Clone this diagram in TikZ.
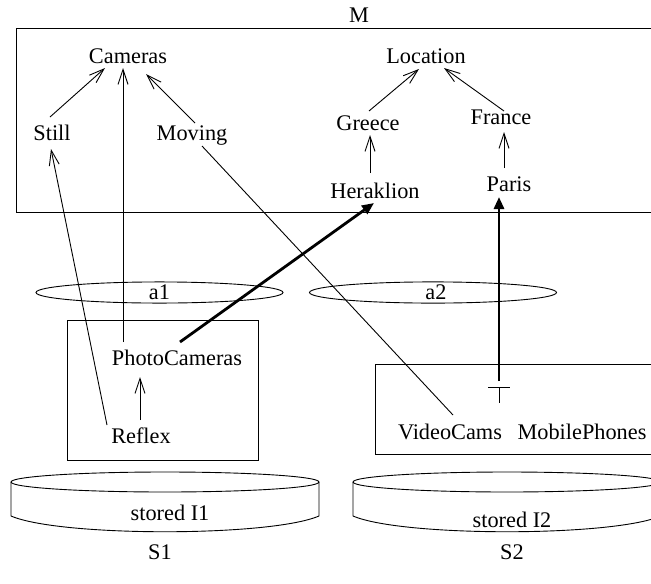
\documentclass[tikz,border=0pt]{standalone}
\usepackage{fontspec}
\setmainfont{Liberation Serif}
\usetikzlibrary{arrows.meta,shapes.geometric,calc}
\newcommand{\lblfont}{\fontsize{22.3}{26}\selectfont}
\begin{document}
\begin{tikzpicture}[x=1pt,y=1pt,
  txt/.style={inner sep=0pt, text height=15pt, text depth=0pt, font=\lblfont},
  thin/.style={line width=0.9pt},
  arr/.style={thin, -{Straight Barb[length=15pt,width=10pt]}},
  thk/.style={line width=2.8pt, -{Triangle[length=12pt,width=10pt]}},
  ring/.style={draw, ellipse, thin, inner sep=0pt, minimum width=247pt, minimum height=21pt, font=\lblfont}]
\useasboundingbox (0,0) rectangle (651,-584);

% ontology M
\node[txt] (mlabel) at (359,-15) {M};
\draw[thin] (655,-28) -- (16,-28) -- (16,-212) -- (655,-212);
\node[txt] (cameras)   at (128,-56)  {Cameras};
\node[txt] (still)     at (52,-133)  {Still};
\node[txt] (moving)    at (192,-133) {Moving};
\node[txt] (location)  at (426,-56)  {Location};
\node[txt] (greece)    at (368,-123) {Greece};
\node[txt] (france)    at (501,-117) {France};
\node[txt] (heraklion) at (375,-191) {Heraklion};
\node[txt] (paris)     at (509,-184) {Paris};

% articulations
\node[ring] (a1) at (159.5,-292.5) {a1};
\node[ring] (a2) at (433,-292.5) {\hspace*{6pt}a2};

% source S1
\draw[thin] (67,-320) rectangle (258,-460);
\node[txt] (photo)  at (177,-358) {PhotoCameras};
\node[txt] (reflex) at (141,-436) {Reflex};

% source S2
\draw[thin] (655,-364) -- (375,-364) -- (375,-454) -- (655,-454);
\node[txt] (videocams)    at (450,-432) {VideoCams};
\node[txt] (mobilephones) at (582,-432) {MobilePhones};
\coordinate (tee) at (499,-387);
\coordinate (teetop) at (499,-381);

% stored interpretations
\draw[thin] (11,-482) -- (11,-516) .. controls (60,-537) and (270,-537) .. (319,-516) -- (319,-482);
\draw[thin] (165,-482) ellipse [x radius=154, y radius=10];
\node[txt] (st1) at (170,-513) {stored I1};
\draw[thin] (353,-482) -- (353,-516) .. controls (402,-537) and (612,-537) .. (661,-516) -- (661,-482);
\draw[thin] (507,-482) ellipse [x radius=154, y radius=10];
\node[txt] (st2) at (512,-520) {stored I2};
\node[txt] (s1) at (160,-552) {S1};
\node[txt] (s2) at (512,-552) {S2};

% subsumption arrows
\draw[arr] ($(still)+(-2,16)$) -- ($(cameras)+(-23,-12)$);
\draw[arr] ($(photo)+(-54,16)$) -- ($(cameras)+(-5,-12)$);
\draw[arr] ($(moving)+(3,10)$) -- ($(cameras)+(18,-18)$);
\draw[arr] ($(reflex)+(-34,11)$) -- ($(still)+(-1,-16)$);
\draw[arr] ($(reflex)+(-1,16)$) -- ($(photo)+(-37,-19)$);
\draw[thin] ($(moving)+(10,-13)$) -- ($(videocams)+(3,17)$);
\draw[arr] ($(greece)+(1,12)$) -- ($(location)+(-7,-13)$);
\draw[arr] ($(france)+(3,6)$) -- ($(location)+(18,-12)$);
\draw[arr] ($(heraklion)+(-5,18)$) -- ($(greece)+(2,-12)$);
\draw[arr] ($(paris)+(-5,16)$) -- ($(france)+(3,-15)$);

% cross-source links
\draw[thk] ($(photo)+(3,16)$) -- ($(heraklion)+(-1,-12)$);
\draw[thk] (teetop) -- ($(paris)+(-10,-13)$);
\draw[thin] ($(tee)+(-11,0)$) -- ($(tee)+(11,0)$);
\draw[thin] (tee) -- ($(tee)+(0,-16)$);
\end{tikzpicture}
\end{document}
